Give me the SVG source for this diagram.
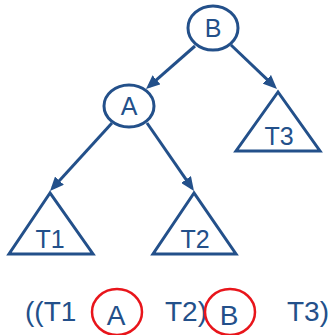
<svg xmlns="http://www.w3.org/2000/svg" width="336" height="335" viewBox="0 0 336 335">
<defs>
<marker id="ah" viewBox="0 0 14 12" refX="10" refY="6" markerWidth="14" markerHeight="12" orient="auto" markerUnits="userSpaceOnUse">
<path d="M0,0 L14,6 L0,12 z" fill="#23508a"/>
</marker>
<style>
.n{fill:#fff;stroke:#23508a;stroke-width:3}
.t{font-family:"Liberation Sans",Arial,sans-serif;font-size:25px;fill:#23508a;text-anchor:middle}
.b{font-family:"Liberation Sans",Arial,sans-serif;font-size:28px;fill:#23508a}
.c{stroke:#23508a;stroke-width:3;fill:none;marker-end:url(#ah)}
.r{fill:none;stroke:#e8151b;stroke-width:2.5}
</style>
</defs>
<rect width="336" height="335" fill="#fff"/>
<g id="connectors">
<line class="c" x1="195" y1="46" x2="149" y2="86.4"/>
<line class="c" x1="231" y1="45" x2="274.1" y2="86.2"/>
<line class="c" x1="112" y1="123" x2="52.7" y2="188"/>
<line class="c" x1="147" y1="123" x2="191.7" y2="187.7"/>
</g>
<g id="nodeB"><ellipse class="n" cx="213" cy="28" rx="25" ry="22"/><text class="t" x="213" y="37">B</text></g>
<g id="nodeA"><ellipse class="n" cx="129" cy="106" rx="25" ry="21"/><text class="t" x="129" y="115">A</text></g>
<g id="T3"><polygon class="n" points="278,92 236,151 320,151"/><text class="t" x="279" y="145">T3</text></g>
<g id="T1"><polygon class="n" points="50,193 9,254 93,254"/><text class="t" x="50" y="248">T1</text></g>
<g id="T2"><polygon class="n" points="194,193 153,254 236,254"/><text class="t" x="195" y="248">T2</text></g>
<g id="expression">
<text class="b" x="25" y="321">((T1</text>
<text class="b" x="116" y="325" text-anchor="middle">A</text>
<text class="b" x="165" y="321">T2)</text>
<text class="b" x="229" y="325" text-anchor="middle">B</text>
<text class="b" x="287" y="321">T3)</text>
<ellipse class="r" cx="117" cy="312" rx="25" ry="23"/>
<ellipse class="r" cx="230" cy="312" rx="25" ry="23"/>
</g>
</svg>
